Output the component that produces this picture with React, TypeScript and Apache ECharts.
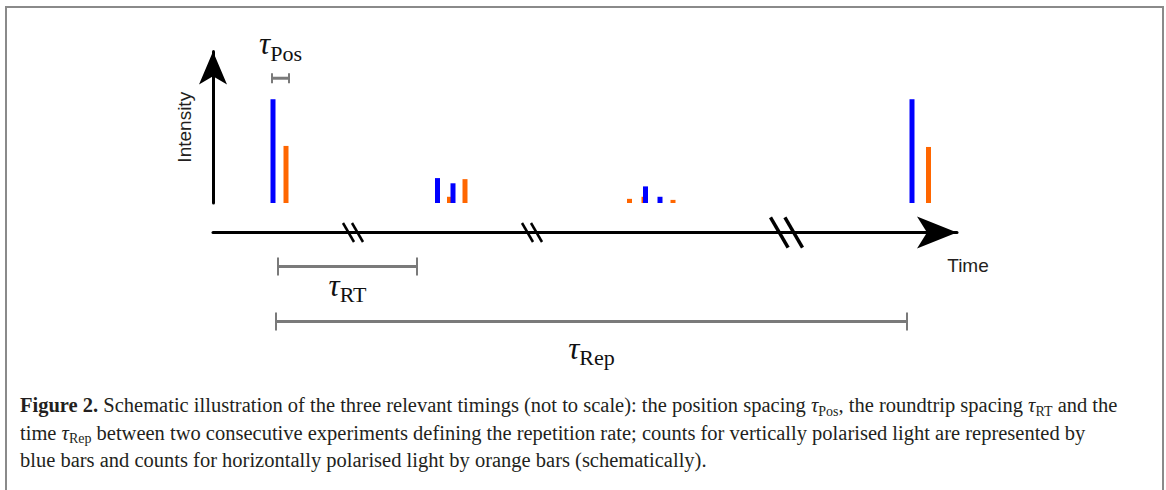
import React, { useEffect, useRef } from "react";
import * as echarts from "echarts";

// ---------------- data (schematic units) ----------------
// time axis: origin at the intensity axis, arbitrary units
const TIME_MAX = 744;
// intensity axis: tallest peak = 1
const INTENSITY_MAX = 1.46;

// counts for vertically polarised light (blue)
const blueTimes = [60, 224.5, 240, 432.5, 447, 699];
const blueIntensity = [1.0, 0.24, 0.19, 0.16, 0.06, 1.0];
// counts for horizontally polarised light (orange)
const orangeTimes = [73, 236.5, 252, 416.5, 431, 460, 715.5];
const orangeIntensity = [0.55, 0.06, 0.23, 0.04, 0.06, 0.03, 0.54];

// axis breaks along the time axis
const axisBreakTimes = [140, 319, 573.5];

// timing spans [start, end]
const tauPosSpan = [59, 76];
const tauRTSpan = [65, 204];
const tauRepSpan = [63, 694];

const yAxisName = "Intensity";
const xAxisName = "Time";

const captionLines = [
  "{b|Figure 2.} Schematic illustration of the three relevant timings (not to scale): the position spacing {t|τ}{s|Pos}, the roundtrip spacing {t|τ}{s|RT} and the",
  "time {t|τ}{s|Rep} between two consecutive experiments defining the repetition rate; counts for vertically polarised light are represented by",
  "blue bars and counts for horizontally polarised light by orange bars (schematically).",
];

// ---------------- styles / layout ----------------
const BLUE = "#0000ff";
const ORANGE = "#ff6600";
const AXIS = "#000000";
const BRACKET = "#7a7a7a";
const TEXT = "#231f20";
const breakMarkScale = [1, 1, 1.6];
const CAPTION_SIZE = 20.5;

const tauRich = {
  t: {
    fontFamily: "Liberation Serif",
    fontStyle: "italic",
    fontSize: 31,
    lineHeight: 36,
    verticalAlign: "top",
    fill: "#111",
  },
  s: {
    fontFamily: "Liberation Serif",
    fontSize: 22,
    lineHeight: 22,
    verticalAlign: "bottom",
    fill: "#111",
  },
};

function bracketSeries(
  span: number[],
  xAxisIndex: number,
  yAxisIndex: number,
  yRef: number,
  dy: number,
  tickH: number,
  label: string,
  labelDy: number
) {
  return {
    type: "custom",
    xAxisIndex,
    yAxisIndex,
    silent: true,
    z: 5,
    data: [[span[0], span[1]]],
    renderItem: (params: any, api: any) => {
      const a = api.coord([api.value(0), yRef]);
      const b = api.coord([api.value(1), yRef]);
      const y = a[1] + dy;
      return {
        type: "group",
        children: [
          {
            type: "line",
            shape: { x1: a[0], y1: y, x2: b[0], y2: y },
            style: { stroke: BRACKET, lineWidth: 3 },
          },
          {
            type: "line",
            shape: { x1: a[0], y1: y - tickH / 2, x2: a[0], y2: y + tickH / 2 },
            style: { stroke: BRACKET, lineWidth: 2 },
          },
          {
            type: "line",
            shape: { x1: b[0], y1: y - tickH / 2, x2: b[0], y2: y + tickH / 2 },
            style: { stroke: BRACKET, lineWidth: 2 },
          },
          {
            type: "text",
            x: (a[0] + b[0]) / 2,
            y: y + labelDy,
            style: {
              text: label,
              rich: tauRich,
              align: "center",
              verticalAlign: "middle",
            },
          },
        ],
      };
    },
  };
}

export default function App() {
  const ref = useRef<HTMLDivElement>(null);

  useEffect(() => {
    if (!ref.current) return;
    const chart = echarts.init(ref.current, undefined, { renderer: "svg" });

    const option: any = {
      animation: false,
      backgroundColor: "#ffffff",
      grid: [
        { left: 213, right: 209, top: 51.5, bottom: 287, containLabel: false },
        { left: 213, right: 209, top: 230.5, height: 2, containLabel: false },
      ],
      xAxis: [
        { gridIndex: 0, type: "value", min: 0, max: TIME_MAX, show: false },
        {
          gridIndex: 1,
          type: "value",
          min: 0,
          max: TIME_MAX,
          position: "bottom",
          axisLine: {
            show: true,
            onZero: false,
            symbol: ["none", "arrow"],
            symbolSize: [24, 40],
            lineStyle: { color: AXIS, width: 3 },
          },
          axisTick: { show: false },
          axisLabel: { show: false },
          splitLine: { show: false },
          name: xAxisName,
          nameLocation: "end",
          nameGap: 11,
          nameTextStyle: {
            fontFamily: "Liberation Sans",
            fontSize: 19,
            color: TEXT,
            align: "center",
            verticalAlign: "top",
            padding: [23, 0, 0, 0],
          },
        },
      ],
      yAxis: [
        {
          gridIndex: 0,
          type: "value",
          min: 0,
          max: INTENSITY_MAX,
          axisLine: {
            show: true,
            onZero: false,
            symbol: ["none", "arrow"],
            symbolSize: [21, 33],
            lineStyle: { color: AXIS, width: 3 },
          },
          axisTick: { show: false },
          axisLabel: { show: false },
          splitLine: { show: false },
          name: yAxisName,
          nameLocation: "middle",
          nameRotate: 90,
          nameGap: 19,
          nameTextStyle: {
            fontFamily: "Liberation Sans",
            fontSize: 19,
            color: TEXT,
          },
        },
        { gridIndex: 1, type: "value", min: 0, max: 1, show: false },
      ],
      series: [
        {
          type: "bar",
          xAxisIndex: 0,
          yAxisIndex: 0,
          barWidth: 5,
          barGap: "-100%",
          silent: true,
          itemStyle: { color: ORANGE },
          data: orangeTimes.map((t, i) => [t, orangeIntensity[i]]),
        },
        {
          type: "bar",
          xAxisIndex: 0,
          yAxisIndex: 0,
          barWidth: 5,
          barGap: "-100%",
          silent: true,
          itemStyle: { color: BLUE },
          data: blueTimes.map((t, i) => [t, blueIntensity[i]]),
        },
        {
          type: "custom",
          xAxisIndex: 1,
          yAxisIndex: 1,
          silent: true,
          z: 6,
          data: axisBreakTimes.map((t) => [t, 0]),
          renderItem: (params: any, api: any) => {
            const c = api.coord([api.value(0), 0]);
            const k = breakMarkScale[params.dataIndex];
            const h = 9.5 * k;
            const dx = 11 * k;
            const gap = 9 * k;
            const lw = k > 1.2 ? 3.5 : 2.5;
            return {
              type: "group",
              children: [-1, 1].map((sgn) => ({
                type: "line",
                shape: {
                  x1: c[0] + (sgn * gap) / 2 - dx / 2,
                  y1: c[1] - h,
                  x2: c[0] + (sgn * gap) / 2 + dx / 2,
                  y2: c[1] + h,
                },
                style: { stroke: AXIS, lineWidth: lw },
              })),
            };
          },
        },
        bracketSeries(tauPosSpan, 0, 0, 1.0, -21, 10, "{t|τ}{s|Pos}", -32),
        bracketSeries(tauRTSpan, 1, 1, 0, 34, 18, "{t|τ}{s|RT}", 21),
        bracketSeries(tauRepSpan, 1, 1, 0, 89, 18, "{t|τ}{s|Rep}", 29),
      ],
      graphic: [
        {
          type: "rect",
          silent: true,
          shape: { x: 6, y: 7, width: 1157, height: 600 },
          style: { fill: "none", stroke: "#8a8a8a", lineWidth: 2 },
        },
        ...captionLines.map((line, i) => ({
          type: "text",
          silent: true,
          left: 20,
          top: 392 + i * 27.5,
          style: {
            text: line,
            fill: TEXT,
            fontFamily: "Liberation Serif",
            fontSize: CAPTION_SIZE,
            lineHeight: 26,
            rich: {
              b: {
                fontFamily: "Liberation Serif",
                fontWeight: "bold",
                fontSize: CAPTION_SIZE,
                lineHeight: 26,
                fill: TEXT,
              },
              t: {
                fontFamily: "Liberation Serif",
                fontStyle: "italic",
                fontSize: CAPTION_SIZE,
                lineHeight: 26,
                fill: TEXT,
              },
              s: {
                fontFamily: "Liberation Serif",
                fontSize: 14,
                lineHeight: 16,
                verticalAlign: "bottom",
                fill: TEXT,
              },
            },
          },
        })),
      ],
    };

    chart.setOption(option);
    return () => chart.dispose();
  }, []);

  return (
    <div
      ref={ref}
      style={{ position: "absolute", left: 0, top: 0, width: 1166, height: 490 }}
    />
  );
}
